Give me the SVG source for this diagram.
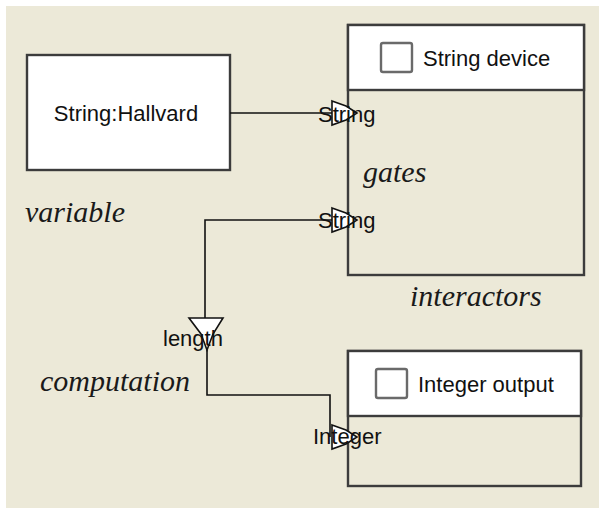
<svg xmlns="http://www.w3.org/2000/svg" width="599" height="508" viewBox="0 0 599 508">
  <style>
    .box { fill: #ffffff; stroke: #3c3c3c; stroke-width: 2.4; }
    .body { fill: #ece9d8; stroke: #3c3c3c; stroke-width: 2.4; }
    .check { fill: #ffffff; stroke: #6a6a6a; stroke-width: 2.4; }
    .sans { font-family: "Liberation Sans", Arial, sans-serif; font-size: 22px; fill: #111111; }
    .note { font-family: "Liberation Serif", "Times New Roman", serif; font-style: italic; font-size: 30px; fill: #1a1a1a; }
    .wire { fill: none; stroke: #111111; stroke-width: 1.6; }
    .gate { fill: #ffffff; stroke: #111111; stroke-width: 1.6; stroke-linejoin: miter; }
  </style>

  <!-- canvas -->
  <rect x="0" y="0" width="599" height="508" fill="#ffffff"/>
  <rect x="6" y="6" width="593" height="502" fill="#ece9d8"/>

  <!-- variable node -->
  <g id="variable-hallvard">
    <rect class="box" x="27" y="55" width="203" height="115"/>
    <text class="sans" x="126" y="121" text-anchor="middle">String:Hallvard</text>
  </g>

  <!-- interactor: String device -->
  <g id="string-device">
    <rect class="body" x="348" y="25" width="236" height="250"/>
    <rect class="box" x="348" y="25" width="236" height="65"/>
    <rect class="check" x="381" y="43" width="31" height="29" rx="2"/>
    <text class="sans" x="423" y="66">String device</text>
  </g>

  <!-- interactor: Integer output -->
  <g id="integer-output">
    <rect class="body" x="348" y="351" width="233" height="135"/>
    <rect class="box" x="348" y="351" width="233" height="65"/>
    <rect class="check" x="376" y="369" width="31" height="29" rx="2"/>
    <text class="sans" x="418" y="392">Integer output</text>
  </g>

  <!-- free-standing captions -->
  <text class="note" x="25" y="222">variable</text>
  <text class="note" x="363" y="182">gates</text>
  <text class="note" x="410" y="306">interactors</text>
  <text class="note" x="40" y="391">computation</text>

  <!-- connectors -->
  <g id="connectors">
    <path class="wire" d="M230,113 H333"/>
    <path class="wire" d="M333,220 H205 V318"/>
    <path class="wire" d="M207,350 V395 H330 V437"/>
  </g>

  <!-- gates on the String device -->
  <g id="gate-string-in">
    <polygon class="gate" points="332,101 346,106 357,113 346,120 332,125"/>
    <text class="sans" x="318" y="122">String</text>
  </g>
  <g id="gate-string-out">
    <polygon class="gate" points="332,208 346,213 357,220 346,227 332,232"/>
    <text class="sans" x="318" y="228">String</text>
  </g>

  <!-- computation gate -->
  <g id="gate-length">
    <polygon class="gate" points="189,318 223,318 213,334 207,350 201,334"/>
    <text class="sans" x="163" y="346">length</text>
  </g>

  <!-- gate on the Integer output -->
  <g id="gate-integer">
    <polygon class="gate" points="332,425 346,430 357,437 346,444 332,449"/>
    <text class="sans" x="313" y="444">Integer</text>
  </g>
</svg>
